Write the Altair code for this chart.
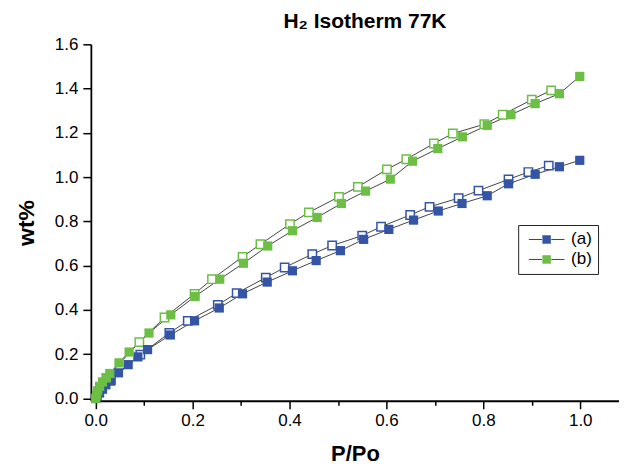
import altair as alt
import pandas as pd

# (a) adsorption (filled) / desorption (open)
a_ads_x = [0.0, 0.003, 0.008, 0.014, 0.021, 0.032, 0.047, 0.067, 0.087, 0.107, 0.154, 0.204, 0.255, 0.303,
           0.354, 0.406, 0.455, 0.505, 0.553, 0.605, 0.656, 0.707, 0.756, 0.808, 0.852, 0.907, 0.957, 0.999]
a_ads_y = [0.0, 0.012, 0.025, 0.042, 0.062, 0.082, 0.116, 0.153, 0.188, 0.221, 0.287, 0.351, 0.409, 0.473,
           0.526, 0.577, 0.623, 0.668, 0.719, 0.764, 0.806, 0.847, 0.881, 0.916, 0.970, 1.013, 1.047, 1.076]
a_des_x = [0.935, 0.893, 0.852, 0.790, 0.749, 0.689, 0.649, 0.589, 0.550, 0.488, 0.447, 0.390, 0.351, 0.291,
           0.252, 0.190, 0.152, 0.092, 0.030]
a_des_y = [1.052, 1.023, 0.990, 0.939, 0.905, 0.866, 0.829, 0.776, 0.736, 0.691, 0.652, 0.592, 0.546, 0.476,
           0.423, 0.351, 0.296, 0.198, 0.080]

# (b)
b_ads_x = [0.0, 0.0015, 0.004, 0.008, 0.014, 0.022, 0.029, 0.048, 0.069, 0.110, 0.155, 0.205, 0.256, 0.305,
           0.355, 0.406, 0.457, 0.507, 0.557, 0.608, 0.654, 0.706, 0.757, 0.808, 0.857, 0.907, 0.957, 0.999]
b_ads_y = [0.0, 0.018, 0.035, 0.055, 0.075, 0.093, 0.113, 0.161, 0.210, 0.296, 0.378, 0.461, 0.539, 0.611,
           0.689, 0.758, 0.818, 0.881, 0.937, 0.991, 1.072, 1.129, 1.182, 1.234, 1.282, 1.332, 1.377, 1.455]
b_des_x = [0.940, 0.900, 0.840, 0.802, 0.737, 0.698, 0.641, 0.601, 0.541, 0.502, 0.440, 0.401, 0.340, 0.303,
           0.240, 0.204, 0.142, 0.090, 0.022]
b_des_y = [1.392, 1.350, 1.282, 1.239, 1.197, 1.152, 1.081, 1.035, 0.956, 0.911, 0.841, 0.788, 0.697, 0.640,
           0.539, 0.473, 0.366, 0.255, 0.093]

series_names = ["(a)", "(b)"]
series_colors = ["#3454A6", "#6CBE45"]
x_ticks = [round(i * 0.1, 1) for i in range(11)]
y_ticks = [round(i * 0.1, 1) for i in range(17)]

rows = []
def add(series, branch, xs, ys):
    for i, (x, y) in enumerate(zip(xs, ys)):
        rows.append(dict(series=series, series_f=series, branch=branch, key=series + branch,
                         x=x, y=y, order=i))

add("(a)", "des", a_des_x, a_des_y)
add("(b)", "des", b_des_x, b_des_y)
add("(a)", "ads", a_ads_x, a_ads_y)
add("(b)", "ads", b_ads_x, b_ads_y)
df = pd.DataFrame(rows)

FONT = "Arial"
major = "abs(datum.value*5 - round(datum.value*5)) < 0.001"

xscale = alt.Scale(domain=[-0.01, 1.08], nice=False, zero=False)
yscale = alt.Scale(domain=[-0.01, 1.6], nice=False, zero=False)

xaxis = alt.Axis(values=x_ticks, title="P/Po", labelExpr=f"{major} ? format(datum.value, '.1f') : ''",
                 tickSize={"condition": {"test": major, "value": 8}, "value": 4.5},
                 labelFlush=False, labelOverlap=False, grid=False,
                 labelFontSize=17, labelFont=FONT, labelColor="black", labelPadding=4,
                 titleFontSize=22, titleFont=FONT, titleFontWeight="bold", titleColor="black", titlePadding=15,
                 domainColor="black", domainWidth=1.8, tickColor="black", tickWidth=1.5)
yaxis = alt.Axis(values=y_ticks, title="wt%", labelExpr=f"{major} ? format(datum.value, '.1f') : ''",
                 tickSize={"condition": {"test": major, "value": 8}, "value": 4.5},
                 labelFlush=False, labelOverlap=False, grid=False,
                 labelFontSize=17, labelFont=FONT, labelColor="black", labelPadding=5,
                 titleFontSize=23, titleFont=FONT, titleFontWeight="bold", titleColor="black", titlePadding=16,
                 domainColor="black", domainWidth=1.8, tickColor="black", tickWidth=1.5)

base = alt.Chart(df)

lines = base.mark_line(strokeWidth=1, opacity=1).encode(
    x=alt.X("x:Q", scale=xscale, axis=xaxis),
    y=alt.Y("y:Q", scale=yscale, axis=yaxis),
    detail="key:N",
    order="order:Q",
    stroke=alt.Stroke("series:N", scale=alt.Scale(domain=series_names, range=["#444444", "#444444"]),
                      legend=alt.Legend(title=None, orient="none", legendX=428, legendY=181,
                                        symbolType="M-4.2,0H-1.1M1.1,0H4.2", symbolSize=72,
                                        symbolStrokeWidth=1, symbolOffset=14,
                                        labelFontSize=17, labelFont=FONT, labelColor="black", labelOffset=16,
                                        padding=6, rowPadding=2, strokeColor="#222222")),
)

open_pts = base.transform_filter("datum.branch == 'des'").mark_point(
    shape="square", filled=False, size=70, strokeWidth=1.5, opacity=1).encode(
    x="x:Q", y="y:Q",
    color=alt.Color("series:N", scale=alt.Scale(domain=series_names, range=series_colors), legend=None),
    fill=alt.value("white"),
)

filled_pts = base.transform_filter("datum.branch == 'ads'").mark_point(
    shape="square", filled=True, size=85, opacity=1).encode(
    x="x:Q", y="y:Q",
    fill=alt.Fill("series_f:N", scale=alt.Scale(domain=series_names, range=series_colors),
                  legend=alt.Legend(title=None, orient="none", legendX=428, legendY=181,
                                    symbolType="square", symbolSize=72, symbolStrokeWidth=0,
                                    symbolOffset=14, symbolOpacity=1,
                                    labelFontSize=17, labelFont=FONT, labelOpacity=0, labelOffset=16,
                                    padding=6, rowPadding=2)),
)

chart = alt.layer(lines, open_pts, filled_pts).properties(
    width=529, height=357,
    title=alt.TitleParams("H₂ Isotherm 77K", fontSize=21, fontWeight="bold", font=FONT, color="black",
                          anchor="middle", dx=10, offset=3),
    autosize=alt.AutoSizeParams(type="none"),
    padding={"left": 83, "top": 36, "right": 0, "bottom": 68},
).resolve_legend(stroke="independent", fill="independent").configure_view(stroke=None)

chart.save("out.html", embed_options={"renderer": "svg", "actions": False})
